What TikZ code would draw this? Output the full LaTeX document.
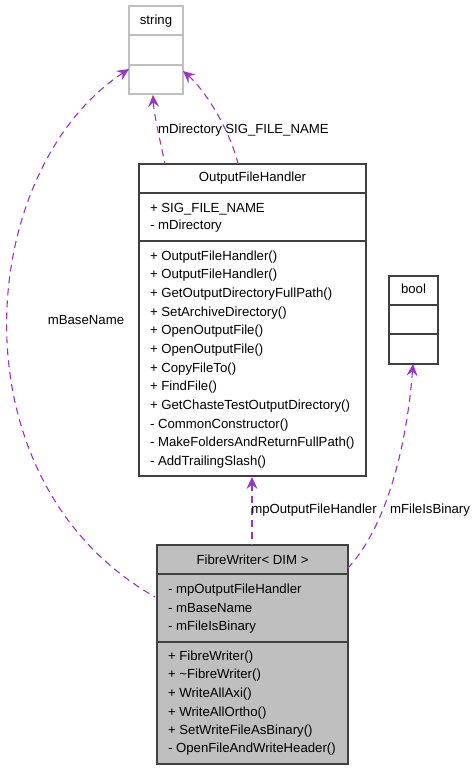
\documentclass[tikz,border=0pt]{standalone}
\usepackage{fontspec}
\setmainfont{Liberation Sans}
\usetikzlibrary{arrows.meta}
\definecolor{edgepurple}{HTML}{9A32CD}
\definecolor{boxgray}{HTML}{404040}
\definecolor{lightborder}{HTML}{BFBFBF}
\definecolor{fillgray}{HTML}{BFBFBF}
\begin{document}
\begin{tikzpicture}[x=1pt,y=-1pt,
  every node/.style={font=\fontsize{13.2}{15}\selectfont, inner sep=0pt, outer sep=0pt},
  classbox/.style={draw=boxgray, line width=1.3pt, minimum width=#1, anchor=north west, rectangle},
  txt/.style={anchor=base west},
  ttl/.style={anchor=base},
  lbl/.style={anchor=base},
  rel/.style={draw=edgepurple, line width=1.1pt, dash pattern=on 7pt off 5pt,
    {Stealth[length=12pt,width=11pt,inset=4.5pt,fill=edgepurple,line width=0.8pt]}-}
]
\useasboundingbox (0,0) rectangle (476,771);

% ---- string ----
\node[classbox=54, draw=lightborder, minimum height=88] (str) at (129,6) {};
\draw[lightborder, line width=1.3pt] (129,35) -- (183,35);
\draw[lightborder, line width=1.3pt] (129,65) -- (183,65);
\node[ttl] (strt) at (156,24) {string};

% ---- OutputFileHandler ----
\node[classbox=227, minimum height=312] (ofh) at (139,164) {};
\draw[boxgray, line width=1.3pt] (139,193) -- (366,193);
\draw[boxgray, line width=1.3pt] (139,241) -- (366,241);
\node[ttl] (ofht) at (252.5,181) {OutputFileHandler};
\node[txt] (o1) at (150,212) {+ SIG\_FILE\_NAME};
\node[txt] (o2) at (150,229) {- mDirectory};
\node[txt] (o3) at (150,260) {+ OutputFileHandler()};
\node[txt] (o4) at (150,278) {+ OutputFileHandler()};
\node[txt] (o5) at (150,297) {+ GetOutputDirectoryFullPath()};
\node[txt] (o6) at (150,316) {+ SetArchiveDirectory()};
\node[txt] (o7) at (150,334) {+ OpenOutputFile()};
\node[txt] (o8) at (150,353) {+ OpenOutputFile()};
\node[txt] (o9) at (150,372) {+ CopyFileTo()};
\node[txt] (o10) at (150,390) {+ FindFile()};
\node[txt] (o11) at (150,409) {+ GetChasteTestOutputDirectory()};
\node[txt] (o12) at (150,428) {- CommonConstructor()};
\node[txt] (o13) at (150,446) {- MakeFoldersAndReturnFullPath()};
\node[txt] (o14) at (150,465) {- AddTrailingSlash()};

% ---- bool ----
\node[classbox=49, minimum height=88] (bool) at (389,276) {};
\draw[boxgray, line width=1.3pt] (389,305) -- (438,305);
\draw[boxgray, line width=1.3pt] (389,334) -- (438,334);
\node[ttl] (boolt) at (413.5,293) {bool};

% ---- FibreWriter ----
\node[classbox=191, fill=fillgray, minimum height=219] (fw) at (157,545) {};
\draw[boxgray, line width=1.3pt] (157,574) -- (348,574);
\draw[boxgray, line width=1.3pt] (157,642) -- (348,642);
\node[ttl] (fwt) at (252.5,564) {FibreWriter< DIM >};
\node[txt] (f1) at (168,593) {- mpOutputFileHandler};
\node[txt] (f2) at (168,612) {- mBaseName};
\node[txt] (f3) at (168,630) {- mFileIsBinary};
\node[txt] (f4) at (168,660) {+ FibreWriter()};
\node[txt] (f5) at (168,678) {+ \textasciitilde FibreWriter()};
\node[txt] (f6) at (168,697) {+ WriteAllAxi()};
\node[txt] (f7) at (168,716) {+ WriteAllOrtho()};
\node[txt] (f8) at (168,734) {+ SetWriteFileAsBinary()};
\node[txt] (f9) at (168,752) {- OpenFileAndWriteHeader()};

% ---- connection points ----
\coordinate (strL) at (129,69);
\coordinate (strB) at (153,95);
\coordinate (strR) at (183,71);
\coordinate (ofhTa) at (165,164);
\coordinate (ofhTb) at (238,164);
\coordinate (ofhB) at (252,477);
\coordinate (boolB) at (413,364);
\coordinate (fwL) at (155,597);
\coordinate (fwT) at (252,545);
\coordinate (fwR) at (348,568);

% ---- edges ----
\draw[rel] (strL) .. controls (-25,170) and (-50,480) .. (fwL);
\draw[rel] (strB) .. controls (154,115) and (160,140) .. (ofhTa);
\draw[rel] (strR) .. controls (205,90) and (230,130) .. (ofhTb);
\draw[rel] (ofhB) -- (fwT);
\draw[rel] (boolB) .. controls (408,430) and (392,520) .. (fwR);

% ---- labels ----
\node[lbl] (l1) at (86,324) {mBaseName};
\node[lbl] (l2) at (190,133) {mDirectory};
\node[lbl] (l3) at (277,133) {SIG\_FILE\_NAME};
\node[lbl] (l4) at (314,513) {mpOutputFileHandler};
\node[lbl] (l5) at (430,513) {mFileIsBinary};
\end{tikzpicture}
\end{document}
